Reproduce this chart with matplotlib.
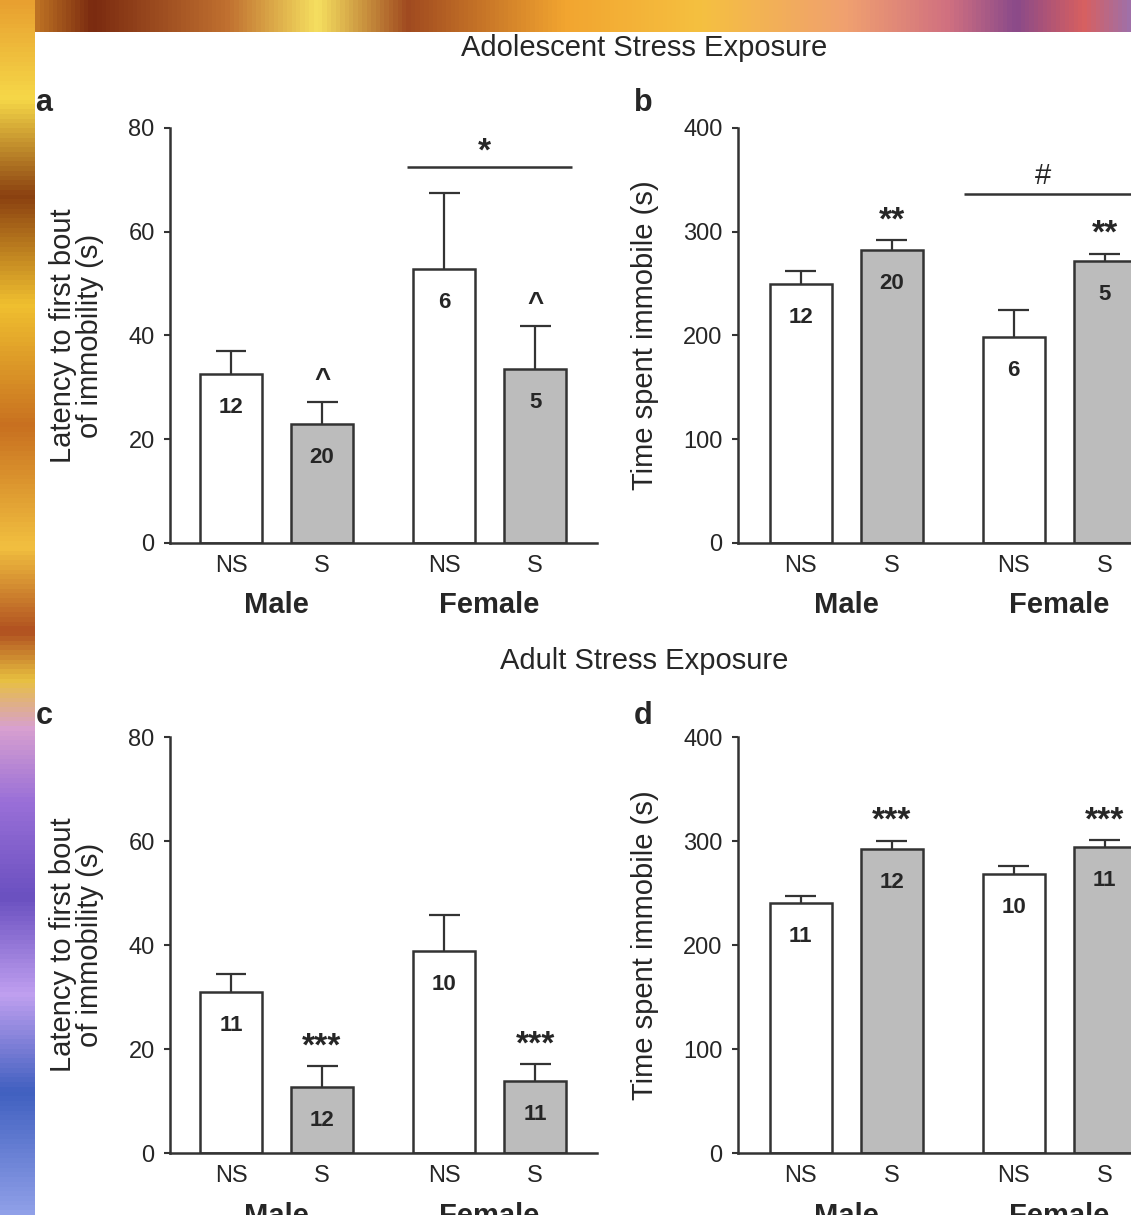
import numpy as np
import matplotlib.pyplot as plt
from matplotlib.colors import LinearSegmentedColormap

plt.rcParams['font.family'] = ['Liberation Sans', 'DejaVu Sans']

# ============================================================================
# DATA
# ============================================================================
groups = ['Male', 'Female']
conditions = ['NS', 'S', 'NS', 'S']
bar_pos = [0.0, 1.0, 2.34, 3.34]

# a) adolescent stress, latency to first bout of immobility (s)
adol_latency = [32.5, 22.9, 52.8, 33.5]
adol_latency_sem = [4.5, 4.3, 14.7, 8.3]
adol_latency_n = ['12', '20', '6', '5']
adol_latency_sig = ['', '^', '', '^']

# b) adolescent stress, time spent immobile (s)
adol_immobile = [249.5, 282.0, 198.5, 271.5]
adol_immobile_sem = [12.5, 10.0, 26.0, 7.5]
adol_immobile_n = ['12', '20', '6', '5']
adol_immobile_sig = ['', '**', '', '**']

# c) adult stress, latency to first bout of immobility (s)
adult_latency = [31.0, 12.7, 38.8, 13.8]
adult_latency_sem = [3.4, 4.0, 7.0, 3.3]
adult_latency_n = ['11', '12', '10', '11']
adult_latency_sig = ['', '***', '', '***']

# d) adult stress, time spent immobile (s)
adult_immobile = [240.5, 292.5, 268.5, 294.0]
adult_immobile_sem = [6.5, 7.5, 7.5, 6.5]
adult_immobile_n = ['11', '12', '10', '11']
adult_immobile_sig = ['', '***', '', '***']

# group brackets: (x0, x1, y, label, label_x, label_y)
bracket_a = (1.93, 3.74, 72.5, '*', 2.78, 73.8)
bracket_b = (1.79, 4.2, 336, '#', 2.66, 346)

# ============================================================================
# STYLE
# ============================================================================
W, H = 1131, 1215
text_col = '#262626'
line_col = '#333333'
fill_cols = ['white', '#bcbcbc', 'white', '#bcbcbc']
bar_width = 0.68
lw = 1.8


def box(left, right, top, bottom):
    return [left / W, 1 - bottom / H, (right - left) / W, (bottom - top) / H]


def draw_panel(ax, vals, sems, ns, sigs, ymax, ylabel, label_x, xmin, xmax,
               bracket=None, sig_kw=None):
    ax.bar(bar_pos, vals, width=bar_width, color=fill_cols,
           edgecolor=line_col, linewidth=lw, zorder=2)
    for x, v, e in zip(bar_pos, vals, sems):
        ax.vlines(x, v, v + e, color=line_col, linewidth=1.6, zorder=1)
        ax.hlines(v + e, x - 0.17, x + 0.17, color=line_col, linewidth=1.6,
                  zorder=1)
    for x, v, n in zip(bar_pos, vals, ns):
        ax.annotate(n, (x, v), xytext=(0, -24), textcoords='offset points',
                    ha='center', va='center', fontsize=16, fontweight='bold',
                    color=text_col, zorder=3)
    for x, v, e, s in zip(bar_pos, vals, sems, sigs):
        if s:
            kw = dict(fontsize=24, fontweight='bold', dy=14)
            if sig_kw:
                kw.update(sig_kw)
            dy = kw.pop('dy')
            ax.annotate(s, (x, v + e), xytext=(0, dy),
                        textcoords='offset points', ha='center',
                        va='center', color=text_col, **kw)
    if bracket is not None:
        x0, x1, y, lab, lx, ly = bracket
        ax.plot([x0, x1], [y, y], color=line_col, linewidth=lw,
                clip_on=False, solid_capstyle='butt')
        ax.text(lx, ly, lab, ha='center', va='baseline', color=text_col,
                fontsize=24 if lab == '*' else 21,
                fontweight='bold' if lab == '*' else 'normal')

    ax.set_xlim(xmin, xmax)
    ax.set_ylim(0, ymax)
    ax.set_yticks(np.linspace(0, ymax, 5))
    ax.set_xticks(bar_pos)
    ax.set_xticklabels(conditions)
    ax.tick_params(axis='x', length=0, pad=9, labelsize=17,
                   labelcolor=text_col)
    ax.tick_params(axis='y', direction='out', length=4, width=1.5, pad=7,
                   labelsize=17, labelcolor=text_col, color=line_col)
    for sp in ['top', 'right']:
        ax.spines[sp].set_visible(False)
    for sp in ['left', 'bottom']:
        ax.spines[sp].set_linewidth(lw)
        ax.spines[sp].set_color(line_col)
    ax.set_ylabel(ylabel, fontsize=21, color=text_col, linespacing=0.95)
    ax.yaxis.set_label_coords(label_x, 0.5)
    for g, pair in zip(groups, [bar_pos[:2], bar_pos[2:]]):
        ax.annotate(g, (np.mean(pair), 0), xycoords=('data', 'axes fraction'),
                    xytext=(0, -45), textcoords='offset points',
                    ha='center', va='center', fontsize=21,
                    fontweight='bold', color=text_col, annotation_clip=False)


fig = plt.figure(figsize=(W / 100, H / 100), dpi=100)

# decorative border strips
bg = fig.add_axes([0, 0, 1, 1], zorder=-10)
bg.axis('off')
top_cmap = LinearSegmentedColormap.from_list('top', [
    (0.0, '#e8a030'), (0.08, '#7a2a10'), (0.2, '#c07030'), (0.28, '#f6e060'),
    (0.36, '#a04a20'), (0.5, '#f2a530'), (0.62, '#f5c040'), (0.75, '#f0a070'),
    (0.84, '#d07080'), (0.9, '#8a4a8a'), (0.96, '#d86060'), (1.0, '#a070a8')])
left_cmap = LinearSegmentedColormap.from_list('left', [
    (0.0, '#e8a030'), (0.08, '#f6d848'), (0.16, '#8a4010'), (0.25, '#f0c030'),
    (0.35, '#c87020'), (0.45, '#f2c040'), (0.52, '#b05020'),
    (0.56, '#e8c040'), (0.6, '#d8a0d0'), (0.66, '#9a70d8'),
    (0.74, '#6a50c0'), (0.82, '#c0a0f0'), (0.9, '#4060c0'),
    (1.0, '#90a0e8')])
bg.imshow(np.linspace(0, 1, 256)[None, :], cmap=top_cmap, aspect='auto',
          extent=(0, W, 32, 0))
bg.imshow(np.linspace(0, 1, 256)[:, None], cmap=left_cmap, aspect='auto',
          extent=(0, 35, H, 0))
bg.set_xlim(0, W)
bg.set_ylim(H, 0)

lat_label = 'Latency to first bout\nof immobility (s)'
imm_label = 'Time spent immobile (s)'

ax_a = fig.add_axes(box(170, 597, 128, 543))
draw_panel(ax_a, adol_latency, adol_latency_sem, adol_latency_n,
           adol_latency_sig, 80, lat_label, -0.155, -0.67, 4.02,
           bracket=bracket_a, sig_kw=dict(fontsize=20, dy=16))

ax_b = fig.add_axes(box(738, 1131, 128, 543))
draw_panel(ax_b, adol_immobile, adol_immobile_sem, adol_immobile_n,
           adol_immobile_sig, 400, imm_label, -0.2, -0.69, 3.63,
           bracket=bracket_b)

ax_c = fig.add_axes(box(170, 597, 737, 1153))
draw_panel(ax_c, adult_latency, adult_latency_sem, adult_latency_n,
           adult_latency_sig, 80, lat_label, -0.155, -0.67, 4.02)

ax_d = fig.add_axes(box(738, 1131, 737, 1153))
draw_panel(ax_d, adult_immobile, adult_immobile_sem, adult_immobile_n,
           adult_immobile_sig, 400, imm_label, -0.2, -0.69, 3.63)

fig.text(644 / W, 1 - 48 / H, 'Adolescent Stress Exposure', ha='center',
         va='center', fontsize=21, color=text_col)
fig.text(644 / W, 1 - 661 / H, 'Adult Stress Exposure', ha='center',
         va='center', fontsize=21, color=text_col)
for lab, (x, y) in zip('abcd', [(44, 103), (643, 103), (44, 716), (643, 716)]):
    fig.text(x / W, 1 - y / H, lab, ha='center', va='center', fontsize=22,
             fontweight='bold', color=text_col)

fig.savefig('out.png', dpi=100)
